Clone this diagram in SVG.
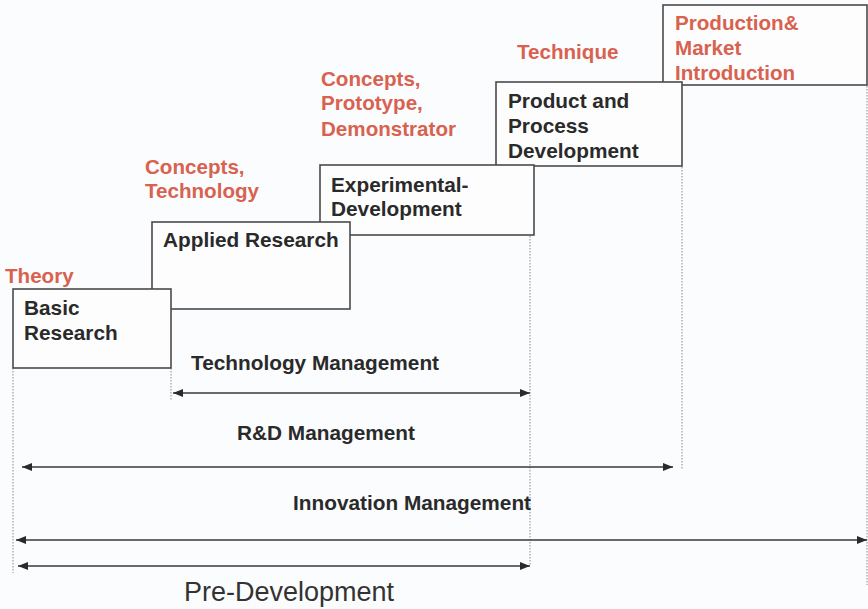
<svg xmlns="http://www.w3.org/2000/svg" width="868" height="609" viewBox="0 0 868 609">
<defs>
<style>
.box{fill:#fdfdfe;stroke:#4a4a4a;stroke-width:1.6}
.t{font-family:"Liberation Sans",Arial,sans-serif;font-weight:bold;font-size:20.8px;fill:#2a2a2a}
.r{font-family:"Liberation Sans",Arial,sans-serif;font-weight:bold;font-size:20.6px;fill:#d8624f}
.dot{stroke:#8a8a8a;stroke-width:1;stroke-dasharray:1.5 1.5;fill:none}
.arr{stroke:#3a3a3a;stroke-width:1.6;fill:none;marker-start:url(#ah);marker-end:url(#ah)}
</style>
<marker id="ah" viewBox="0 0 10 8" refX="10" refY="4" markerWidth="11" markerHeight="8" markerUnits="userSpaceOnUse" orient="auto-start-reverse">
<path d="M0,0 L10,4 L0,8 Z" fill="#2a2a2a"/>
</marker>
</defs>
<rect width="868" height="609" fill="#fbfcfe"/>
<g id="dotted-guides">
<line class="dot" x1="13" y1="368" x2="13" y2="573"/>
<line class="dot" x1="171" y1="368" x2="171" y2="401"/>
<line class="dot" x1="530" y1="236" x2="530" y2="566"/>
<line class="dot" x1="682" y1="167" x2="682" y2="470"/>
<line class="dot" x1="867" y1="86" x2="867" y2="585"/>
</g>
<g id="production">
<rect class="box" x="663" y="5" width="204" height="80"/>
<text class="r" x="675" y="30">Production&amp;</text>
<text class="r" x="675" y="55">Market</text>
<text class="r" x="675" y="80">Introduction</text>
</g>
<g id="product">
<rect class="box" x="496" y="82" width="186" height="84"/>
<text class="t" x="508" y="108">Product and</text>
<text class="t" x="508" y="133">Process</text>
<text class="t" x="508" y="158">Development</text>
</g>
<g id="experimental">
<rect class="box" x="320" y="165" width="214" height="70"/>
<text class="t" x="331" y="192">Experimental-</text>
<text class="t" x="331" y="216">Development</text>
</g>
<g id="applied">
<rect class="box" x="152" y="222" width="198" height="87"/>
<text class="t" x="163" y="247">Applied Research</text>
</g>
<g id="basic">
<rect class="box" x="13" y="289" width="158" height="79"/>
<text class="t" x="24" y="315">Basic</text>
<text class="t" x="24" y="340">Research</text>
</g>
<g id="labels">
<text class="r" x="5" y="283">Theory</text>
<text class="r" x="145" y="174">Concepts,</text>
<text class="r" x="145" y="198">Technology</text>
<text class="r" x="321" y="86">Concepts,</text>
<text class="r" x="321" y="110">Prototype,</text>
<text class="r" x="321" y="136">Demonstrator</text>
<text class="r" x="517" y="59">Technique</text>
</g>
<g id="connectors">
<line class="arr" x1="173" y1="393" x2="530" y2="393"/>
<line class="arr" x1="22" y1="467" x2="673" y2="467"/>
<line class="arr" x1="16" y1="540" x2="867" y2="540"/>
<line class="arr" x1="18" y1="566" x2="530" y2="566"/>
</g>
<g id="spans">
<text class="t" x="191" y="370">Technology Management</text>
<text class="t" x="237" y="440">R&amp;D Management</text>
<text class="t" x="293" y="510">Innovation Management</text>
<text x="184" y="601" font-family="'Liberation Sans',Arial,sans-serif" font-size="27" fill="#333">Pre-Development</text>
</g>
</svg>
